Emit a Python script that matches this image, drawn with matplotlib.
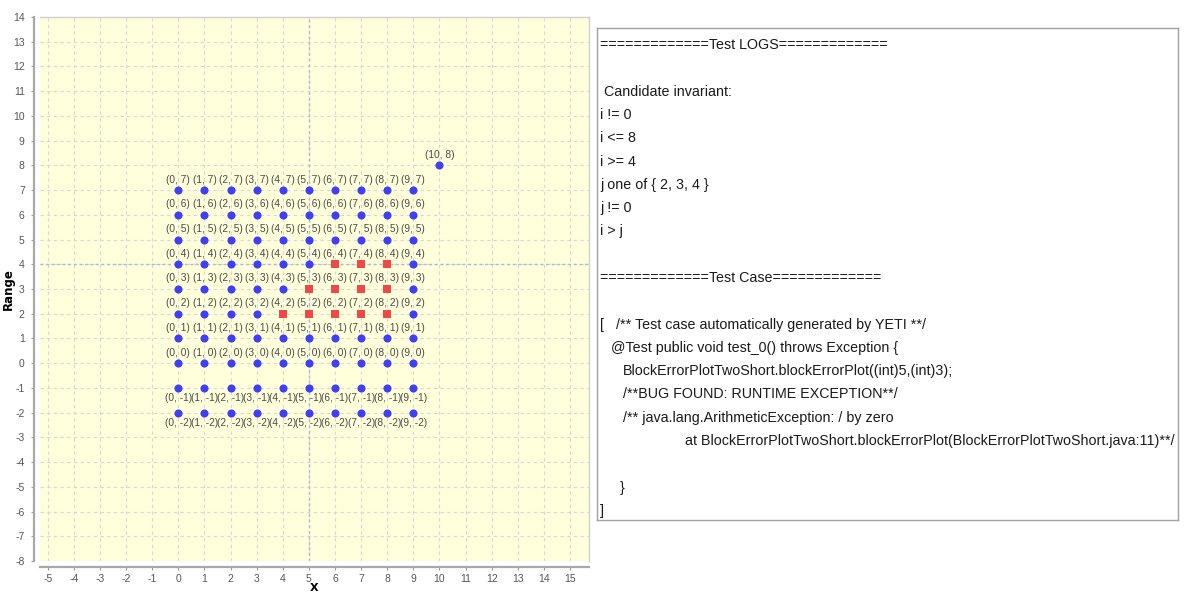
import matplotlib
matplotlib.use("Agg")
import matplotlib.pyplot as plt

plt.rcParams["axes.unicode_minus"] = False

# ---- data ----
grid_x = [0, 1, 2, 3, 4, 5, 6, 7, 8, 9]
grid_y = [7, 6, 5, 4, 3, 2, 1, 0, -1, -2]
fail_points = [(4, 2), (5, 2), (6, 2), (7, 2), (8, 2),
               (5, 3), (6, 3), (7, 3), (8, 3),
               (6, 4), (7, 4), (8, 4)]
extra_points = [(10, 8)]
x_ticks = list(range(-5, 16))
y_ticks = list(range(-8, 15))
crosshair = (5, 4)

log_lines = [
    "=============Test LOGS=============",
    "",
    " Candidate invariant:",
    "i != 0",
    "i <= 8",
    "i >= 4",
    "j one of { 2, 3, 4 }",
    "j != 0",
    "i > j",
    "",
    "=============Test Case=============",
    "",
    "[   /** Test case automatically generated by YETI **/",
    "@Test public void test_0() throws Exception {",
    "BlockErrorPlotTwoShort.blockErrorPlot((int)5,(int)3);",
    "/**BUG FOUND: RUNTIME EXCEPTION**/",
    "/** java.lang.ArithmeticException: / by zero",
    "at BlockErrorPlotTwoShort.blockErrorPlot(BlockErrorPlotTwoShort.java:11)**/",
    "",
    "}",
    "]",
]
log_indent_px = [0, 0, 0, 0, 0, 0, 0, 0, 0, 0, 0, 0, 0, 11, 23, 23, 23, 85, 0, 20, 0]

W, H = 1184, 594
fig = plt.figure(figsize=(W / 100, H / 100), dpi=100)
fig.patch.set_facecolor("white")

# ---- scatter plot ----
ax = fig.add_axes([40 / W, 1 - 561 / H, 549 / W, 544.5 / H])
ax.set_facecolor("#ffffdc")
ax.set_xlim(-5.3, 15.73)
ax.set_ylim(-8.0, 14.02)
ax.set_xticks(x_ticks)
ax.set_yticks(y_ticks)
ax.grid(True, color="#d8d8d0", linestyle=(0, (3, 3)), linewidth=0.8)
ax.set_axisbelow(True)
ax.axvline(crosshair[0], color="#b0b6d8", linestyle=(0, (2, 2)), linewidth=1.0, zorder=1)
ax.axhline(crosshair[1], color="#b0b6d8", linestyle=(0, (2, 2)), linewidth=1.0, zorder=1)

for s in ["top", "right"]:
    ax.spines[s].set_color("#d0d0d0")
    ax.spines[s].set_linewidth(1.0)
for s in ["left", "bottom"]:
    ax.spines[s].set_position(("outward", 4))
    ax.spines[s].set_color("#a8a8a8")
    ax.spines[s].set_linewidth(1.6)
ax.tick_params(axis="both", length=2, width=0.8, color="#999999",
               labelcolor="#555555", labelsize=7.5, pad=5)
ax.tick_params(axis="x", pad=3)
for lab in ax.get_xticklabels() + ax.get_yticklabels():
    lab.set_family("Liberation Sans")
ax.set_xlabel("X", fontsize=8, fontweight="bold", va="center")
ax.xaxis.set_label_coords(0.5, -0.05)
ax.set_ylabel("Range", fontsize=8.5, fontweight="bold")
ax.yaxis.set_label_coords(-0.045, 0.5)

pass_x, pass_y, fx, fy = [], [], [], []
for yv in grid_y:
    for xv in grid_x:
        if (xv, yv) in fail_points:
            fx.append(xv); fy.append(yv)
        else:
            pass_x.append(xv); pass_y.append(yv)
for (xv, yv) in extra_points:
    pass_x.append(xv); pass_y.append(yv)

ax.scatter(pass_x, pass_y, s=34, marker="o", color="#3f3ff5", zorder=3, linewidths=0)
ax.scatter(fx, fy, s=34, marker="s", color="#f04848", zorder=3, linewidths=0)

all_pts = [(x, y) for y in grid_y for x in grid_x] + extra_points
for (xv, yv) in all_pts:
    if yv >= 0:
        ax.annotate(f"({xv}, {yv})", (xv, yv), xytext=(0, 4), textcoords="offset points",
                    ha="center", va="bottom", fontsize=7.3, color="#4a4a4a",
                    family="Liberation Sans")
    else:
        ax.annotate(f"({xv}, {yv})", (xv, yv), xytext=(0, -4), textcoords="offset points",
                    ha="center", va="top", fontsize=7.3, color="#4a4a4a",
                    family="Liberation Sans")

# ---- text panel ----
tx = fig.add_axes([597 / W, 1 - 520 / H, 581 / W, 492 / H])
tx.set_xlim(0, 581)
tx.set_ylim(492, 0)
tx.set_xticks([]); tx.set_yticks([])
for s in tx.spines.values():
    s.set_color("#a0a0a0")
    s.set_linewidth(1.0)

y0 = 17
step = 23.3
for i, (line, ind) in enumerate(zip(log_lines, log_indent_px)):
    if not line:
        continue
    tx.text(3 + ind, y0 + i * step, line, ha="left", va="center",
            fontsize=10.3, color="#1a1a1a",
            family="Liberation Sans", clip_on=True)

fig.savefig("out.png", dpi=100)
